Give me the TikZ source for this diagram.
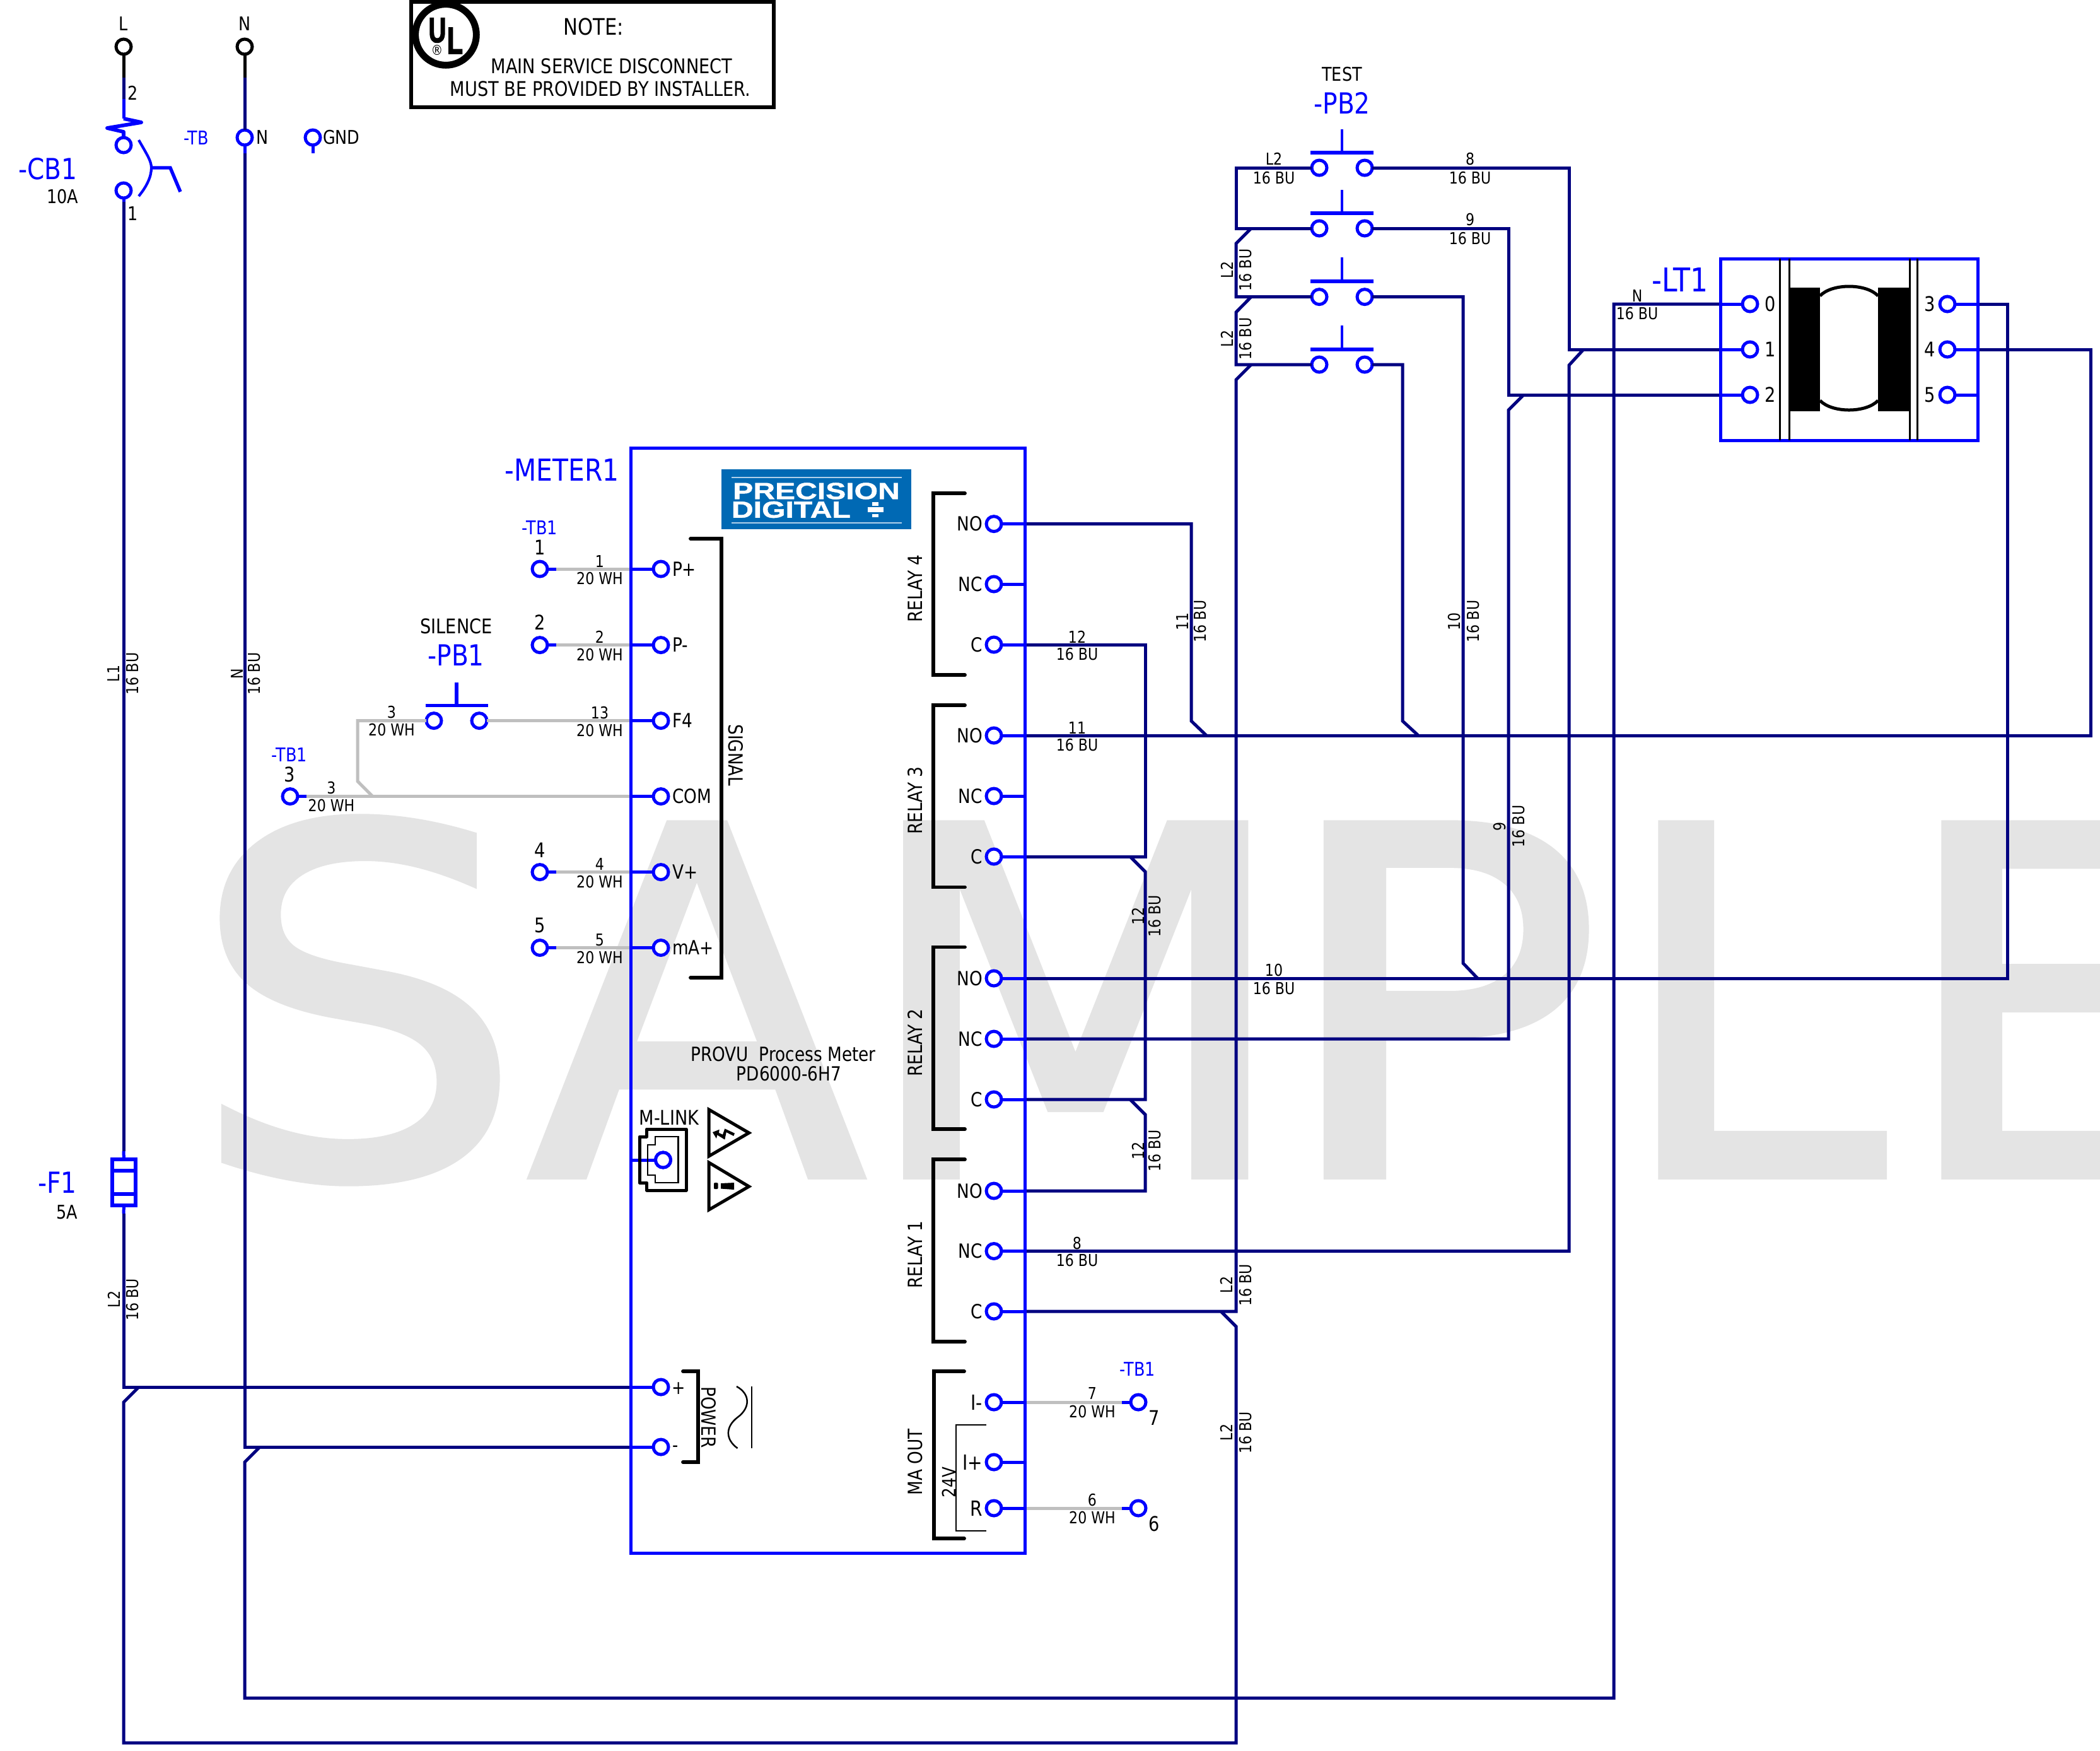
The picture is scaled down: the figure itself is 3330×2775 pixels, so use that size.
\documentclass[tikz,border=0pt]{standalone}
\usepackage{graphicx}
\usepackage{fontspec}
\setmainfont{DejaVu Sans}[FakeStretch=0.85]
\newfontfamily\wmfont[FakeStretch=1.1,FakeBold=1.8]{DejaVu Sans}
\newfontfamily\ulfont[FakeStretch=0.68,BoldFeatures={FakeBold=2.5}]{Liberation Sans}
\newfontfamily\logofont[FakeStretch=1.3,BoldFeatures={FakeBold=1.2}]{Liberation Sans}
\definecolor{wnavy}{RGB}{0,0,128}
\definecolor{wblue}{RGB}{0,0,255}
\definecolor{wgray}{RGB}{191,191,191}
\definecolor{wmark}{RGB}{228,228,228}
\definecolor{logoblue}{RGB}{0,105,180}
\definecolor{logoline}{RGB}{176,208,234}
\newcommand\fs[1]{\fontsize{\the\dimexpr#1pt*24/100\relax}{\the\dimexpr#1pt*29/100\relax}\selectfont}
\newcounter{tn}
\newcommand\T[4][]{\stepcounter{tn}\node[txt,#1] (t\thetn) at (#2,#3) {#4};}
\tikzset{
  x=0.24pt,y=-0.24pt,
  txt/.style={inner sep=0pt,outer sep=0pt,align=center,font=\fs{30}},
  small/.style={font=\fs{26}},
  mid/.style={font=\fs{32}},
  tag/.style={text=wblue,font=\fs{46}},
  tagS/.style={text=wblue,font=\fs{30}},
  term/.style={circle,draw=wblue,fill=white,line width=1.2pt,minimum size=5.76pt,inner sep=0pt,outer sep=0pt},
  src/.style={term,draw=black},
  wire/.style={draw=wnavy,line width=1.2pt},
  stub/.style={draw=wblue,line width=1.2pt},
  gwire/.style={draw=wgray,line width=1.2pt},
  sym/.style={draw=wblue,line width=1.3pt},
  brk/.style={draw=black,line width=1.4pt,line cap=round},
  thin/.style={draw=black,line width=0.6pt},
  box/.style={draw=wblue,line width=1.2pt,inner sep=0pt,outer sep=0pt,fill=none},
}
\begin{document}
\begin{tikzpicture}
\useasboundingbox (0,0) rectangle (3330,2775);
\fill[white] (0,0) rectangle (3330,2775);
% watermark
\begin{scope}
\clip (0,0) rectangle (3330,2775);
\node[inner sep=0pt,outer sep=0pt,anchor=base west,text=wmark] (wm) at (300,1863)
  {\wmfont\fontsize{183pt}{185pt}\selectfont S\kern1.44pt \scalebox{.93}[1]{A}\kern-2.88pt \scalebox{.955}[1]{M}\kern-7.2pt \scalebox{1.03}[1]{P}\kern4.32pt \scalebox{.92}[1]{L}\kern3.12pt E};
\end{scope}

% main shapes
\node[box,minimum width=625*0.24pt,minimum height=1752*0.24pt] (meter) at (1312.5,1586) {};
\node[box,minimum width=408*0.24pt,minimum height=288*0.24pt] (ltbox) at (2932,554) {};
\node[box,draw=black,line width=1.4pt,minimum width=575*0.24pt,minimum height=167*0.24pt] (note) at (939.5,86.5) {};
\node[fill=logoblue,inner sep=0pt,outer sep=0pt,minimum width=301*0.24pt,minimum height=95*0.24pt] (logo) at (1294.5,791.5) {};
\node[sym,inner sep=0pt,outer sep=0pt,minimum width=37*0.24pt,minimum height=73*0.24pt] (f1) at (196.5,1874.5) {};

% terminals
\foreach \n/\x/\y in {
 mPp/1048/902, mPm/1048/1022.6, mFf/1048/1142.6, mCom/1048/1262.6, mVp/1048/1382.6, mMa/1048/1502.5,
 mPlus/1048/2199, mMinus/1048/2294, mLink/1051.5/1839,
 tbA/856/902, tbB/856/1022.6, tbC/460/1262.6, tbD/856/1382.6, tbE/856/1502.5, tbG/1805/2223, tbF/1805/2391,
 pbOa/688/1142.6, pbOb/760/1142.6,
 rDno/1576/830.6, rDnc/1576/926, rDc/1576/1022,
 rCno/1576/1166, rCnc/1576/1262, rCc/1576/1358,
 rBno/1576/1551, rBnc/1576/1647, rBc/1576/1743,
 rAno/1576/1888, rAnc/1576/1983.5, rAc/1576/2079,
 maI/1576/2223, maP/1576/2318, maR/1576/2391,
 pbAa/2092/266, pbAb/2164/266, pbBa/2092/362, pbBb/2164/362,
 pbCa/2092/470.6, pbCb/2164/470.6, pbDa/2092/578, pbDb/2164/578,
 ltO/2775/482, ltA/2775/554, ltB/2775/626, ltC/3088/482, ltD/3088/554, ltE/3088/626,
 cbA/196/230, cbB/196/302, tbN/388/218, tbGnd/496/218}
 {\node[term] (\n) at (\x,\y) {};}
\node[src] (srcL) at (196,74) {};
\node[src] (srcN) at (388,74) {};

% junction points
\coordinate (aL) at (196,123);
\coordinate (bL) at (196,157);
\coordinate (cL) at (196,188);
\coordinate (aN) at (388,123);
\coordinate (eL) at (196,320);
\coordinate (fLa) at (196,1825);
\coordinate (fLb) at (196,1924);
\coordinate (gN) at (388,243);
\coordinate (gG) at (496,243);
\coordinate (railL) at (1960,266);
\coordinate (vA) at (2488,266);
\coordinate (vB) at (2392,362);
\coordinate (vC) at (2320,470.6);
\coordinate (vD) at (2224,578);
\coordinate (vN) at (2559,482);
\coordinate (vR) at (3183,482);
\coordinate (vS) at (3315,554);
\coordinate (vE) at (1889,830.6);
\coordinate (vF) at (1816,1022);
\coordinate (bot) at (196,2763);
\coordinate (botN) at (388,2692);
\coordinate (jA) at (1984,362);
\coordinate (jAb) at (1960,386);
\coordinate (jB) at (1984,470.6);
\coordinate (jBb) at (1960,495);
\coordinate (jC) at (1984,578);
\coordinate (jCb) at (1960,602);
\coordinate (jD) at (1936,2079);
\coordinate (jDb) at (1960,2103);
\coordinate (jE) at (2511,554);
\coordinate (jEb) at (2488,579);
\coordinate (jF) at (2416,626);
\coordinate (jFb) at (2392,650);
\coordinate (jG) at (2320,1527);
\coordinate (jGb) at (2343,1551);
\coordinate (jH) at (2224,1143);
\coordinate (jHb) at (2249,1166);
\coordinate (jI) at (1889,1143);
\coordinate (jIb) at (1913,1166);
\coordinate (jJ) at (1792,1358);
\coordinate (jJb) at (1816,1382);
\coordinate (jK) at (1792,1743);
\coordinate (jKb) at (1816,1767);
\coordinate (jL) at (220,2199);
\coordinate (jLb) at (196,2223);
\coordinate (jM) at (412,2294);
\coordinate (jMb) at (388,2318);

% top feeders
\draw[draw=black,line width=1.2pt] (srcL.south) -- (aL);
\draw[draw=black,line width=1.2pt] (srcN.south) -- (aN);
\draw[wire] (aL) -- (bL);
\draw[stub] (bL) -- (cL);
\draw[wire] (aN) -- (tbN.north);
\draw[stub] (tbN.south) -- (gN);
\draw[stub] (tbGnd.south) -- (gG);
\draw[stub] (cbB.south) -- (eL);
\draw[wire] (eL) -- (fLa);
\draw[stub] (fLa) -- (f1.north);
\draw[stub] (f1.south) -- (fLb);
\draw[wire] (fLb) -- (fLb |- mPlus) -- (mPlus -| meter.west);
\draw[wire] (jL) -- (jLb) -- (bot) -- (railL |- bot) -- (jDb) -- (jD);
\draw[wire] (gN) -- (gN |- mMinus) -- (mMinus -| meter.west);
\draw[wire] (jM) -- (jMb) -- (botN) -- (vN |- botN) -- (vN) -- (ltO -| ltbox.west);

% PB2 rail
\draw[wire] (pbAa.west) -- (railL) -- (railL |- pbBa) -- (pbBa.west);
\draw[wire] (jA) -- (jAb) -- (railL |- pbCa) -- (pbCa.west);
\draw[wire] (jB) -- (jBb) -- (railL |- pbDa) -- (pbDa.west);
\draw[wire] (jC) -- (jCb) -- (railL |- rAc) -- (rAc -| meter.east);
% PB2 outputs
\draw[wire] (pbAb.east) -- (vA) -- (vA |- ltA) -- (ltA -| ltbox.west);
\draw[wire] (jE) -- (jEb) -- (vA |- rAnc) -- (rAnc -| meter.east);
\draw[wire] (pbBb.east) -- (vB) -- (vB |- ltB) -- (ltB -| ltbox.west);
\draw[wire] (jF) -- (jFb) -- (vB |- rBnc) -- (rBnc -| meter.east);
\draw[wire] (pbCb.east) -- (vC) -- (jG) -- (jGb);
\draw[wire] (pbDb.east) -- (vD) -- (jH) -- (jHb);
% relay outputs
\draw[wire] (rDno -| meter.east) -- (vE) -- (jI) -- (jIb);
\draw[wire] (rCno -| meter.east) -- (vS |- rCno) -- (vS) -- (ltD -| ltbox.east);
\draw[wire] (rBno -| meter.east) -- (vR |- rBno) -- (vR) -- (ltC -| ltbox.east);
\draw[wire] (rDc -| meter.east) -- (vF) -- (vF |- rCc) -- (rCc -| meter.east);
\draw[wire] (jJ) -- (jJb) -- (vF |- rBc) -- (rBc -| meter.east);
\draw[wire] (jK) -- (jKb) -- (vF |- rAno) -- (rAno -| meter.east);

% gray signal wires
\foreach \a/\b in {tbA/mPp, tbB/mPm, tbD/mVp, tbE/mMa, tbC/mCom, pbOb/mFf}
 {\draw[gwire] (\a.east) -- (\b -| meter.west);}
\coordinate (gA) at (567,1142.6);
\coordinate (gB) at (567,1238.5);
\coordinate (gC) at (591,1262.6);
\draw[gwire] (pbOa.west) -- (gA) -- (gB) -- (gC);
\draw[gwire] (maI -| meter.east) -- (tbG.west);
\draw[gwire] (maR -| meter.east) -- (tbF.west);

% short blue stubs
\foreach \n/\x in {tbA/882, tbB/882, tbD/882, tbE/882, tbC/486}
 {\draw[stub] (\n.east) -- (\x,0 |- \n);}
\foreach \n/\x in {tbG/1779, tbF/1779}
 {\draw[stub] (\n.west) -- (\x,0 |- \n);}
\foreach \n in {mPp,mPm,mFf,mCom,mVp,mMa,mPlus,mMinus,mLink}
 {\draw[stub] (\n.west) -- (\n -| meter.west);}
\foreach \n in {rDno,rDnc,rDc,rCno,rCnc,rCc,rBno,rBnc,rBc,rAno,rAnc,rAc,maI,maP,maR}
 {\draw[stub] (\n.east) -- (\n -| meter.east);}
\foreach \n in {ltO,ltA,ltB}
 {\draw[stub] (\n.west) -- (\n -| ltbox.west);}
\foreach \n in {ltC,ltD,ltE}
 {\draw[stub] (\n.east) -- (\n -| ltbox.east);}

% redraw box outlines above wires
\draw[draw=wblue,line width=1.2pt] (meter.north west) rectangle (meter.south east);
\draw[draw=wblue,line width=1.2pt] (ltbox.north west) rectangle (ltbox.south east);

% CB1
\draw[sym,line join=round,line width=1.4pt] (cL) -- (224,194) -- (170,203) -- (196,209) -- (cbA.north);
\draw[draw=wblue,line width=1pt] (220,222) .. controls (233,245) and (240,255) .. (240,266) .. controls (240,280) and (233,295) .. (220,311);
\draw[sym] (240,266) -- (270,266) -- (286,304);
% fuse bars
\draw[sym] (f1.west |- 0,1856) -- (f1.east |- 0,1856);
\draw[sym] (f1.west |- 0,1893) -- (f1.east |- 0,1893);
% push buttons
\draw[sym] (674.5,1118.5) -- (774,1118.5);
\draw[sym] (724,1082) -- (724,1118.5);
\foreach \yb/\yt in {242/205, 338/301, 446/408, 554/516}{
 \draw[sym] (2078,\yb) -- (2178,\yb);
 \draw[sym,line width=1pt] (2128,\yt) -- (2128,\yb);
}
% transformer
\foreach \xx in {2822,2837,3028,3040}
 {\draw[thin,line width=0.7pt] (\xx,410) -- (\xx,698);}
\fill[black] (2837,456) rectangle (2886,652);
\fill[black] (2978,456) rectangle (3028,652);
\draw[draw=black,line width=1.2pt] (2886,469) .. controls (2905,449) and (2959,449) .. (2978,469);
\draw[draw=black,line width=1.2pt] (2886,635) .. controls (2905,655) and (2959,655) .. (2978,635);

% brackets
\draw[brk] (1095,854) -- (1144,854) -- (1144,1550) -- (1095,1550);
\draw[brk] (1530,782) -- (1480,782) -- (1480,1070) -- (1530,1070);
\draw[brk] (1530,1118) -- (1480,1118) -- (1480,1406.5) -- (1530,1406.5);
\draw[brk] (1530,1501.5) -- (1480,1501.5) -- (1480,1790) -- (1530,1790);
\draw[brk] (1530,1838) -- (1480,1838) -- (1480,2127) -- (1530,2127);
\draw[brk] (1529,2174) -- (1481,2174) -- (1481,2439) -- (1529,2439);
\draw[brk] (1083,2174) -- (1107,2174) -- (1107,2318) -- (1083,2318);
\draw[thin] (1564,2259) -- (1516,2259) -- (1516,2427) -- (1564,2427);
% AC symbol
\draw[thin] (1192,2198) -- (1192,2296);
\draw[thin] (1168,2198) .. controls (1190,2210) and (1190,2232) .. (1169.5,2247) .. controls (1150,2262) and (1150,2282) .. (1169.5,2296);
% M-LINK connector
\draw[draw=black,line width=1.2pt,line join=round] (1025.5,1790) -- (1088,1790) -- (1088,1887) -- (1025.5,1887) -- (1025.5,1875) -- (1014,1875) -- (1014,1802) -- (1025.5,1802) -- cycle;
\draw[draw=black,line width=0.5pt] (1039,1802) -- (1075.5,1802) -- (1075.5,1875) -- (1039,1875) -- (1039,1863) -- (1027,1863) -- (1027,1815) -- (1039,1815) -- cycle;
\node[term] (mLinkTop) at (mLink) {};
% warning triangles
\draw[draw=black,line width=1.2pt] (1124,1759) -- (1187.6,1796) -- (1124,1833) -- cycle;
\draw[draw=black,line width=1.2pt] (1124,1843) -- (1187.6,1881) -- (1124,1918) -- cycle;
\fill[black] (1130,1795) -- (1140.7,1790.7) -- (1140,1796) -- (1146,1798.7) -- (1149.3,1789.3) -- (1165,1796.7) -- (1163.3,1801) -- (1151.7,1795) -- (1149.3,1806.7) -- (1137.3,1799.3) -- (1136,1805) -- cycle;
\fill[black,rounded corners=0.3pt] (1132,1875) rectangle (1138.5,1885);
\fill[black] (1143,1876) -- (1164,1875) -- (1164,1886) -- (1143,1884.5) -- cycle;
% logo details
\draw[draw=logoline,line width=0.7pt] (1160,757) -- (1430,757);
\draw[draw=logoline,line width=0.7pt] (1160,829) -- (1430,829);
\fill[white] (1376,804) rectangle (1401,812);
\fill[white] (1383,796) rectangle (1393,802);
\fill[white] (1383,815) rectangle (1393,820);
\T[text=white,font=\logofont\bfseries\fs{37}]{1294.5}{778.5}{PRECISION}
\T[text=white,anchor=west,font=\logofont\bfseries\fs{37}]{1160}{808}{DIGITAL}
% UL mark
\node[circle,draw=black,line width=2.6pt,minimum size=23.2pt,inner sep=0pt,fill=white] (ulring) at (707,55) {};
\T[font=\ulfont\bfseries\fs{56}]{693.5}{48}{U}
\T[font=\ulfont\bfseries\fs{60}]{721.5}{64.5}{L}
\T[font=\fs{22}]{693}{80}{®}
% note text
\T[font=\fs{36}]{941}{42}{NOTE:}
\T[mid]{970}{105}{MAIN SERVICE DISCONNECT}
\T[mid]{952}{141}{MUST BE PROVIDED BY INSTALLER.}

% top labels
\T{196}{38}{L}
\T{388}{38}{N}
\T{211}{147}{2}
\T{211}{339}{1}
\T[tagS]{311}{219}{-TB}
\T[anchor=west]{406}{218}{N}
\T[anchor=west]{512}{218}{GND}
\T[tag]{76}{268}{-CB1}
\T{99.5}{312}{10A}
\T[tag]{91}{1875}{-F1}
\T{106}{1922}{5A}
% left rotated labels
\T[small,rotate=90]{180.5}{1068}{L1}
\T[small,rotate=90]{210}{1068}{16 BU}
\T[small,rotate=90]{376}{1068}{N}
\T[small,rotate=90]{403}{1068}{16 BU}
\T[small,rotate=90]{180.5}{2060}{L2}
\T[small,rotate=90]{210}{2060}{16 BU}
% meter left side
\T[tag,font=\fs{48}]{891}{745}{-METER1}
\T[tagS]{856}{837}{-TB1}
\T[mid]{856}{868}{1}
\T[mid]{856}{987}{2}
\T[mid]{856}{1347.5}{4}
\T[mid]{856}{1467.5}{5}
\T[tagS]{459}{1197}{-TB1}
\T[mid]{459}{1228}{3}
\T[mid]{723.5}{993}{SILENCE}
\T[tag]{723}{1039}{-PB1}
\foreach \yy/\nn in {902/1, 1022.6/2, 1142.6/13, 1382.6/4, 1502.5/5}{
 \T[small]{951}{\yy-12.5}{\nn}
 \T[small]{951}{\yy+15.5}{20 WH}
}
\T[small]{621}{1129}{3}
\T[small]{621}{1157.5}{20 WH}
\T[small]{525.5}{1249}{3}
\T[small]{525.5}{1277.5}{20 WH}
\T[anchor=west,font=\fs{31}]{1066}{902}{P+}
\T[anchor=west,font=\fs{31}]{1066}{1022.6}{P-}
\T[anchor=west,font=\fs{31}]{1066}{1142.6}{F4}
\T[anchor=west,font=\fs{31}]{1066}{1262.6}{COM}
\T[anchor=west,font=\fs{31}]{1066}{1382.6}{V+}
\T[anchor=west,font=\fs{31}]{1066}{1502.5}{mA+}
\T[rotate=-90,font=\fs{31}]{1167}{1197}{SIGNAL}
\T[font=\fs{31}]{1242}{1671}{PROVU\ \ Process Meter}
\T[font=\fs{31}]{1251}{1702}{PD6000-6H7}
\T[mid]{1061}{1772}{M-LINK}
\T[rotate=-90,font=\fs{31}]{1123.5}{2247}{POWER}
\T{1076}{2201}{+}
\T{1071}{2297}{-}
% relay labels
\foreach \yy/\tt in {830.6/NO, 926/NC, 1022/C, 1166/NO, 1262/NC, 1358/C, 1551/NO, 1647/NC, 1743/C, 1888/NO, 1983.5/NC, 2079/C}{
 \T[anchor=east,font=\fs{31}]{1558}{\yy}{\tt}
}
\foreach \yy/\tt in {2223/I-, 2318/I+, 2391/R}{
 \T[anchor=east,font=\fs{33}]{1558}{\yy}{\tt}
}
\foreach \yy/\tt in {933/RELAY 4, 1269/RELAY 3, 1653/RELAY 2, 1989/RELAY 1, 2318/MA OUT}{
 \T[rotate=90,font=\fs{31}]{1451}{\yy}{\tt}
}
\T[rotate=90,font=\fs{29}]{1505}{2350}{24V}
% MA out
\T[tagS]{1804}{2171}{-TB1}
\T[mid]{1830}{2248}{7}
\T[mid]{1830}{2416}{6}
\T[small]{1732}{2209}{7}
\T[small]{1732}{2238}{20 WH}
\T[small]{1732}{2378}{6}
\T[small]{1732}{2406}{20 WH}
% wire labels right part
\T[small]{1708}{1010}{12}
\T[small]{1708}{1037}{16 BU}
\T[small]{1708}{1154}{11}
\T[small]{1708}{1181}{16 BU}
\T[small]{1708}{1971}{8}
\T[small]{1708}{1998}{16 BU}
\T[small]{2020}{1538}{10}
\T[small]{2020}{1567}{16 BU}
\T[small,rotate=90]{1874.5}{985}{11}
\T[small,rotate=90]{1903}{985}{16 BU}
\T[small,rotate=90]{1805}{1452}{12}
\T[small,rotate=90]{1831}{1452}{16 BU}
\T[small,rotate=90]{1805}{1824}{12}
\T[small,rotate=90]{1831}{1824}{16 BU}
\T[small,rotate=90]{2306}{985}{10}
\T[small,rotate=90]{2336}{985}{16 BU}
\T[small,rotate=90]{2378}{1310}{9}
\T[small,rotate=90]{2408}{1310}{16 BU}
\T[small,rotate=90]{1946}{428}{L2}
\T[small,rotate=90]{1975}{428}{16 BU}
\T[small,rotate=90]{1946}{537}{L2}
\T[small,rotate=90]{1975}{537}{16 BU}
\T[small,rotate=90]{1945}{2037}{L2}
\T[small,rotate=90]{1975}{2037}{16 BU}
\T[small,rotate=90]{1945}{2271}{L2}
\T[small,rotate=90]{1975}{2271}{16 BU}
% PB2 labels
\T{2128}{118}{TEST}
\T[tag]{2128}{163}{-PB2}
\T[small]{2020}{252}{L2}
\T[small]{2020}{282}{16 BU}
\T[small]{2331}{252}{8}
\T[small]{2331}{282}{16 BU}
\T[small]{2331}{348}{9}
\T[small]{2331}{378}{16 BU}
% LT1 labels
\T[tag,font=\fs{52}]{2664}{444}{-LT1}
\T[small]{2596}{469}{N}
\T[small]{2596}{497.5}{16 BU}
\foreach \yy/\nn in {482/0, 554/1, 626/2}{\T[mid]{2807}{\yy}{\nn}}
\foreach \yy/\nn in {482/3, 554/4, 626/5}{\T[mid]{3060}{\yy}{\nn}}
\end{tikzpicture}
\end{document}
